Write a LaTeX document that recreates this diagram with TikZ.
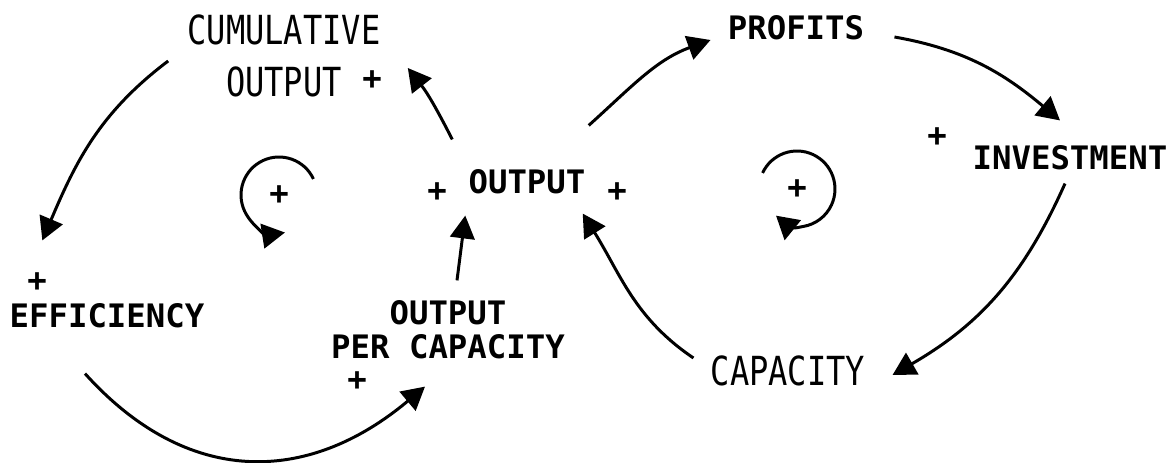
\documentclass[tikz,border=0pt]{standalone}
\usepackage{fontspec}
\setmonofont{DejaVu Sans Mono}
\newfontfamily\tallfont[FakeStretch=0.8]{DejaVu Sans Mono}
\usetikzlibrary{arrows.meta}
\tikzset{
    var/.style={font=\ttfamily\bfseries\fontsize{18.4pt}{19.4pt}\selectfont, inner sep=0pt, align=center},
    tallvar/.style={font=\tallfont\fontsize{22.8pt}{29.6pt}\selectfont, inner sep=0pt, align=center},
    sign/.style={font=\ttfamily\bfseries\fontsize{18.4pt}{19.4pt}\selectfont, inner sep=0pt},
    link/.style={-{Triangle[length=13pt, width=14pt]}, line width=1.7pt}
}

\begin{document}
\begin{tikzpicture}[x=0.02cm, y=0.02cm]
    \useasboundingbox (0,0) rectangle (1174,463);

    % variables
    \node[tallvar] (cum)  at (284,407) {CUMULATIVE\\OUTPUT};
    \node[var]     (outp) at (527,281) {OUTPUT};
    \node[var]     (prof) at (796,435) {PROFITS};
    \node[var]     (inv)  at (1070,305) {INVESTMENT};
    \node[tallvar] (cap)  at (788,92) {CAPACITY};
    \node[var]     (eff)  at (107,147) {EFFICIENCY};
    \node[var]     (opc)  at (448,133) {OUTPUT\\PER CAPACITY};

    % polarity signs
    \node[sign] (scum)  at (372,383) {+};
    \node[sign] (sout1) at (437,271) {+};
    \node[sign] (sout2) at (617,271) {+};
    \node[sign] (sinv)  at (937,326) {+};
    \node[sign] (seff)  at (37,181) {+};
    \node[sign] (sopc)  at (357,82) {+};

    % left loop
    \draw[link] ([shift={(-19,-5)}]cum.west) to[out=217, in=67] ([shift={(33,63)}]eff.north west);
    \draw[link] ([shift={(-22,-45)}]eff.south) to[out=-48, in=220, looseness=1.15] ([shift={(-23,-27)}]opc.south);
    \draw[link] ([shift={(9,20)}]opc.north) -- ([shift={(-3,-21)}]outp.south west);
    \draw[link] ([shift={(-16,30)}]outp.north west) to[out=117, in=-52] ([shift={(27,-12)}]cum.east);

    % right loop
    \draw[link] ([shift={(3,44)}]outp.north east) to[out=42, in=200] ([shift={(-17,-12)}]prof.west);
    \draw[link] ([shift={(30,-9)}]prof.east) to[out=-10, in=140] ([shift={(-10,25)}]inv.north);
    \draw[link] ([shift={(-5,-13)}]inv.south) to[out=246, in=30] ([shift={(27,-4)}]cap.east);
    \draw[link] ([shift={(-17,13)}]cap.west) to[out=146, in=-58] ([shift={(-3,-19)}]outp.south east);

    % loop markers
    \node[sign] (loopL) at (279,268) {+};
    \draw[link] (loopL) ++(25:0.76cm) arc[start angle=25, end angle=279, radius=0.76cm];
    \node[sign] (loopR) at (797,274) {+};
    \draw[link] (loopR) ++(155:0.76cm) arc[start angle=155, end angle=-80, radius=0.76cm]
        to[out=190, in=80] ++(-19,-14);
\end{tikzpicture}
\end{document}
